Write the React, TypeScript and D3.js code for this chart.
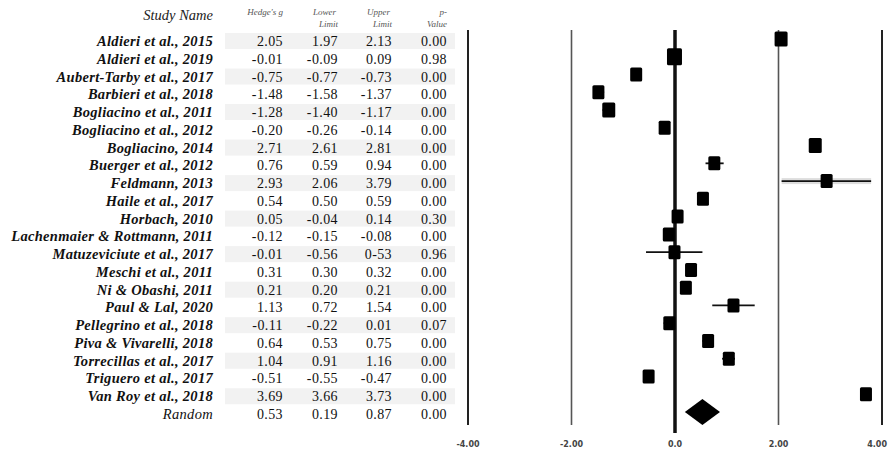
import React from 'react';
import * as d3 from 'd3';

// study rows, top to bottom
const studies = [
  'Aldieri et al., 2015', 'Aldieri et al., 2019', 'Aubert-Tarby et al., 2017', 'Barbieri et al., 2018',
  'Bogliacino et al., 2011', 'Bogliacino et al., 2012', 'Bogliacino, 2014', 'Buerger et al., 2012',
  'Feldmann, 2013', 'Haile et al., 2017', 'Horbach, 2010', 'Lachenmaier & Rottmann, 2011',
  'Matuzeviciute et al., 2017', 'Meschi et al., 2011', 'Ni & Obashi, 2011', 'Paul & Lal, 2020',
  'Pellegrino et al., 2018', 'Piva & Vivarelli, 2018', 'Torrecillas et al., 2017', 'Triguero et al., 2017',
  'Van Roy et al., 2018', 'Random',
];
const hedgesG = [2.05, -0.01, -0.75, -1.48, -1.28, -0.2, 2.71, 0.76, 2.93, 0.54, 0.05, -0.12, -0.01, 0.31, 0.21, 1.13, -0.11, 0.64, 1.04, -0.51, 3.69, 0.53];
const lowerLimit = [1.97, -0.09, -0.77, -1.58, -1.4, -0.26, 2.61, 0.59, 2.06, 0.5, -0.04, -0.15, -0.56, 0.3, 0.2, 0.72, -0.22, 0.53, 0.91, -0.55, 3.66, 0.19];
const upperLimit = [2.13, 0.09, -0.73, -1.37, -1.17, -0.14, 2.81, 0.94, 3.79, 0.59, 0.14, -0.08, 0.53, 0.32, 0.21, 1.54, 0.01, 0.75, 1.16, -0.47, 3.73, 0.87];
const pValue = [0, 0.98, 0, 0, 0, 0, 0, 0, 0, 0, 0.3, 0, 0.96, 0, 0, 0, 0.07, 0, 0, 0, 0, 0];
// the table prints this one as "0-53"
const upperText: Record<number, string> = { 12: '0-53' };
// square size per study
const boxSize = [13, 15, 12, 12, 13, 12, 13, 12, 12, 12, 12, 12, 12, 12, 12, 12, 12, 12, 12, 12, 12];

const gridValues = [-4, -2, 0, 2, 4];
const tickLabels = ['-4.00', '-2.00', '0.0', '2.00', '4.00'];

const W = 888, H = 450;
const serif = '"Liberation Serif", "Times New Roman", serif';

function App() {
  const x = d3.scaleLinear().domain([-4, 4]).range([468, 882]);
  const y = d3.scalePoint<number>().domain(d3.range(studies.length)).range([41, 414]);

  const colRight = { name: 213, g: 283, lo: 338, hi: 392, p: 447 };
  const fmt = (v: number) => v.toFixed(2);
  const last = studies.length - 1;

  const diamond = (i: number) => {
    const yy = y(i)! - 2;
    return `M${x(lowerLimit[i])},${yy}L${x(hedgesG[i])},${yy - 13}L${x(upperLimit[i])},${yy}L${x(hedgesG[i])},${yy + 13}Z`;
  };

  return (
    <svg width={W} height={H} style={{ position: 'absolute', left: 0, top: 0, background: '#fff' }}
      fontFamily={serif}>
      {/* header */}
      <text x={colRight.name} y={20} textAnchor="end" fontStyle="italic" fontSize={14.5} fill="#222">Study Name</text>
      <g fontStyle="italic" fontSize={9} fill="#555" textAnchor="end">
        <text x={colRight.g} y={15}>Hedge's g</text>
        <text x={colRight.lo - 2} y={15}>Lower</text>
        <text x={colRight.lo} y={27}>Limit</text>
        <text x={colRight.hi - 2} y={15}>Upper</text>
        <text x={colRight.hi} y={27}>Limit</text>
        <text x={colRight.p} y={15}>p-</text>
        <text x={colRight.p} y={27}>Value</text>
      </g>

      {/* striped table rows */}
      {studies.map((s, i) => i % 2 === 0 && i !== last ? (
        <rect key={'bg' + i} x={225} y={y(i)! - 8} width={230} height={16} fill="#f2f2f2" />
      ) : null)}

      {studies.map((s, i) => (
        <g key={'row' + i} fontSize={14} fill="#111">
          <text x={colRight.name} y={y(i)! + 5} textAnchor="end" fontStyle="italic"
            fontWeight={i === last ? 'normal' : 'bold'} fontSize={14.5} letterSpacing={0.3}>{s}</text>
          <g textAnchor="end" letterSpacing={0.4}>
            <text x={colRight.g} y={y(i)! + 5}>{fmt(hedgesG[i])}</text>
            <text x={colRight.lo} y={y(i)! + 5}>{fmt(lowerLimit[i])}</text>
            <text x={colRight.hi} y={y(i)! + 5}>{upperText[i] ?? fmt(upperLimit[i])}</text>
            <text x={colRight.p} y={y(i)! + 5}>{fmt(pValue[i])}</text>
          </g>
        </g>
      ))}

      {/* forest plot grid */}
      {gridValues.map((v) => (
        <line key={'grid' + v} x1={x(v)} x2={x(v)} y1={30} y2={v === 0 ? 433 : 425}
          stroke={v === 0 ? '#111' : Math.abs(v) === 4 ? '#222' : '#555'}
          strokeWidth={v === 0 ? 3.5 : Math.abs(v) === 4 ? 2 : 1.6} />
      ))}
      {gridValues.map((v, k) => {
        const atEdge = k === gridValues.length - 1;
        return (
          <text key={'tick' + v} x={atEdge ? W - 1 : x(v)} y={447} textAnchor={atEdge ? 'end' : 'middle'}
            fontSize={8} fontWeight="bold" fill="#444" fontFamily='"DejaVu Sans", sans-serif'>{tickLabels[k]}</text>
        );
      })}

      {/* confidence intervals and boxes */}
      {studies.slice(0, last).map((s, i) => {
        const yy = y(i)! - 2;
        const sz = boxSize[i];
        return (
          <g key={'mk' + i}>
            {i === 8 ? (
              <rect x={x(lowerLimit[i])} y={yy - 3} width={x(upperLimit[i]) - x(lowerLimit[i])} height={6} fill="#ddd" />
            ) : null}
            <line x1={x(lowerLimit[i])} x2={x(upperLimit[i])} y1={yy} y2={yy} stroke="#111" strokeWidth={1.8} />
            <rect x={x(hedgesG[i]) - sz / 2} y={yy - sz / 2 - 1} width={sz} height={sz + 2} rx={1.5} fill="#000" />
          </g>
        );
      })}
      <path d={diamond(last)} fill="#000" />
    </svg>
  );
}

export default App;
